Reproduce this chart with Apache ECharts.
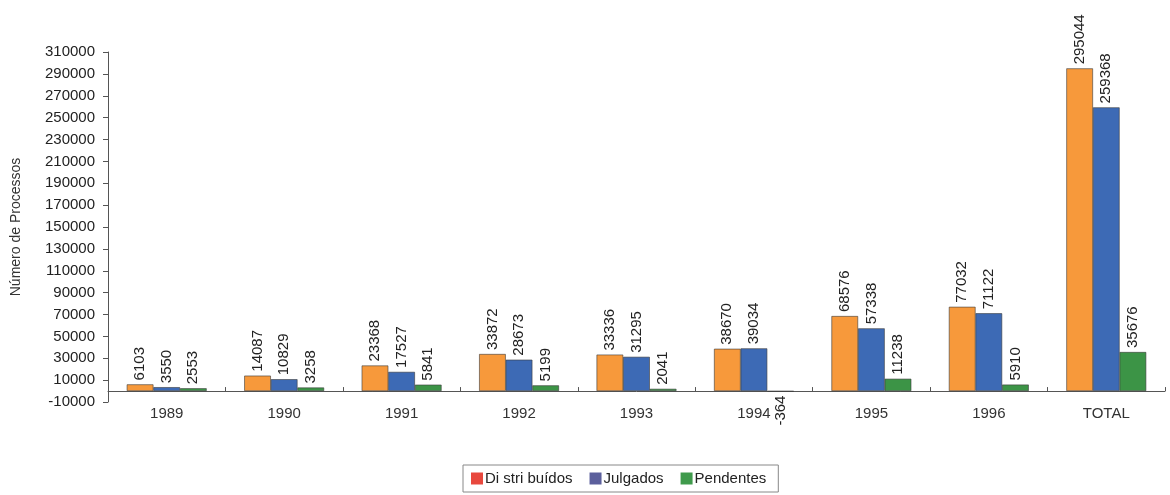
<!DOCTYPE html>
<html><head><meta charset="utf-8">
<script src="https://cdn.jsdelivr.net/npm/echarts@6/dist/echarts.min.js"></script>
<style>html,body{margin:0;padding:0;background:#fff}#c{width:1170px;height:495px}</style>
</head><body><div id="c"></div>
<script>
const categories = ['1989','1990','1991','1992','1993','1994','1995','1996','TOTAL'];
const distribuidos = [6103, 14087, 23368, 33872, 33336, 38670, 68576, 77032, 295044];
const julgados = [3550, 10829, 17527, 28673, 31295, 39034, 57338, 71122, 259368];
const pendentes = [2553, 3258, 5841, 5199, 2041, -364, 11238, 5910, 35676];
const seriesNames = ['Di stri buídos', 'Julgados', 'Pendentes'];
const yTicks = {min: -10000, max: 310000, interval: 20000};

const barColors = ['#f7993b', '#3d6ab5', '#3c9446'];
const legendColors = ['#e8483e', '#5b5f9c', '#3f9a4c'];
const font = 'Liberation Sans, Arial, sans-serif';

function makeData(arr) {
  return arr.map(v => v < 0 ? {value: v, label: {position: 'bottom', align: 'right'}} : v);
}

const chart = echarts.init(document.getElementById('c'), null, {renderer: 'canvas'});
const series = [distribuidos, julgados, pendentes].map((arr, i) => ({
  name: seriesNames[i],
  type: 'bar',
  xAxisIndex: 0,
  data: makeData(arr),
  barGap: '0%',
  barCategoryGap: '32%',
  itemStyle: {color: barColors[i], borderColor: '#3a3a3a', borderWidth: 0.6},
  label: {
    show: true, position: 'top', rotate: 90, align: 'left', verticalAlign: 'middle',
    distance: 4, color: '#222', fontFamily: font, fontSize: 15
  }
}));

chart.setOption({
  animation: false,
  backgroundColor: '#fff',
  grid: {left: 108, right: 5, top: 52, bottom: 93, containLabel: false, outerBoundsMode: 'none'},
  legend: {
    top: 465, left: 463,
    data: seriesNames.map((n, i) => ({name: n, itemStyle: {color: legendColors[i], borderWidth: 0}})),
    icon: 'rect', itemWidth: 12, itemHeight: 12, itemGap: 17,
    borderColor: '#888', borderWidth: 1, padding: [6, 12, 6, 8],
    textStyle: {fontFamily: font, fontSize: 15, color: '#222', padding: [0, 0, 0, -3]}
  },
  xAxis: [{
    type: 'category', data: categories, position: 'bottom',
    axisLine: {show: false, onZero: false}, axisTick: {show: false},
    axisLabel: {margin: 4, fontFamily: font, fontSize: 15, color: '#333'}
  }, {
    type: 'category', data: categories,
    axisLine: {show: true, onZero: true, lineStyle: {color: '#555', width: 1}},
    axisTick: {show: true, length: 4, lineStyle: {color: '#555'}},
    axisLabel: {show: false}
  }],
  yAxis: {
    type: 'value', min: yTicks.min, max: yTicks.max, interval: yTicks.interval,
    name: 'Número de Processos', nameLocation: 'middle', nameGap: 85, nameRotate: 90,
    nameTextStyle: {fontFamily: font, fontSize: 14, color: '#333'},
    axisLine: {show: true, lineStyle: {color: '#555'}},
    axisTick: {show: true, length: 5, lineStyle: {color: '#555'}},
    splitLine: {show: false},
    axisLabel: {fontFamily: font, fontSize: 15, color: '#222', margin: 13, formatter: v => String(v)}
  },
  series: series
});
</script></body></html>
